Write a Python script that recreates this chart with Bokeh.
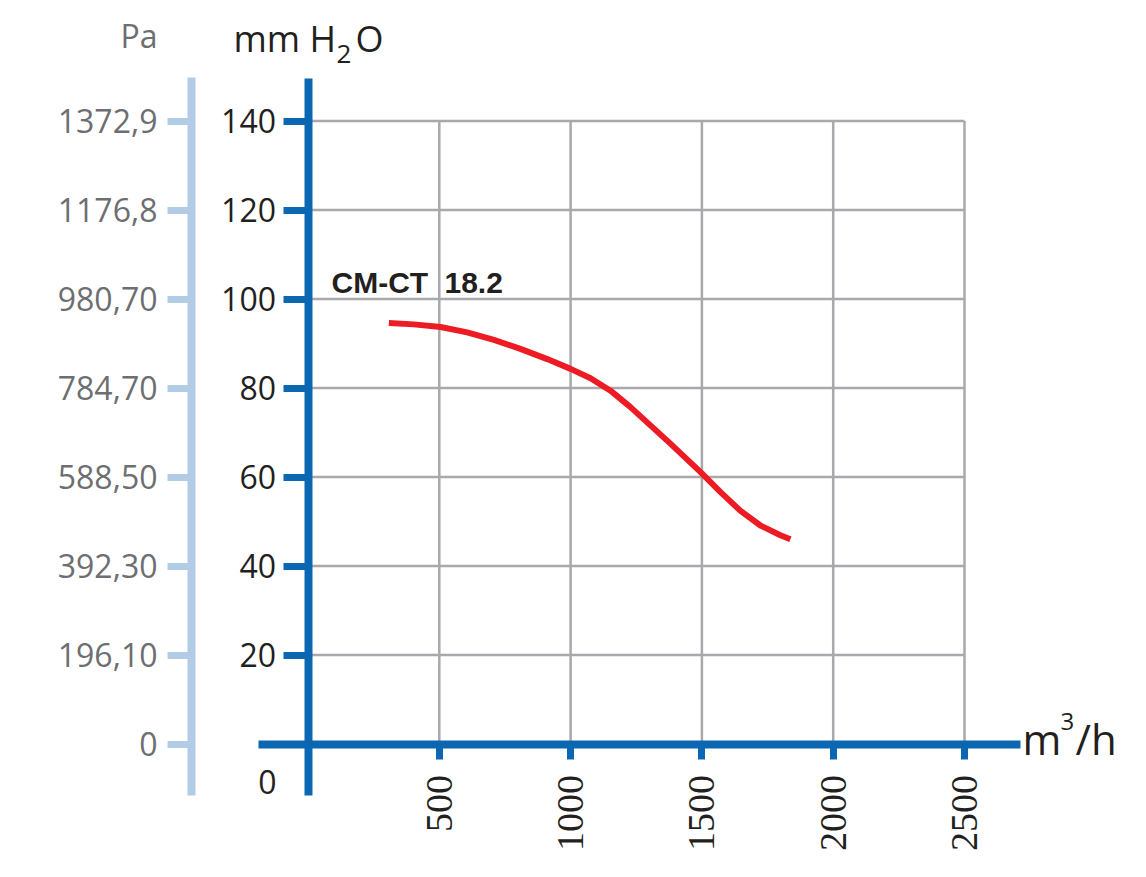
import math
from bokeh.plotting import figure
from bokeh.models import LinearAxis, FixedTicker, Label, Range1d
from bokeh.embed import file_html
from bokeh.resources import INLINE

# ---- data ----
series_name = ["CM-CT", "18.2"]
flow = [308, 403, 505, 606, 708, 809, 911, 1000, 1076, 1152, 1228, 1304, 1380,
        1495, 1571, 1647, 1723, 1799, 1837]
pressure = [94.6, 94.3, 93.7, 92.5, 90.8, 88.8, 86.5, 84.3, 82.2, 79.4, 75.7, 71.6, 67.5,
            61.1, 56.6, 52.4, 49.1, 46.9, 46.0]
x_ticks = [500, 1000, 1500, 2000, 2500]
y_ticks = [20, 40, 60, 80, 100, 120, 140]
pa_ticks = [0, 20, 40, 60, 80, 100, 120, 140]
pa_labels = ["0", "196,10", "392,30", "588,50", "784,70", "980,70", "1176,8", "1372,9"]

BLUE = "#0b67b2"
LIGHT = "#b3cce6"
GRID = "#a7a9ac"
RED = "#ed1c24"
BLACK = "#231f20"
GRAY = "#6d6e71"
FONT = "Open Sans"

W, H = 1130, 861
p = figure(width=W, height=H, output_backend="svg", toolbar_location=None,
           x_range=Range1d(-1171.0, 3132.1), y_range=Range1d(-26.4, 167.08),
           x_axis_type=None, y_axis_type=None, min_border=0)
p.outline_line_color = None
p.background_fill_color = "white"

# grid lines limited to the tick area
n_x = len(x_ticks)
n_y = len(y_ticks)
p.segment(x0=x_ticks, y0=[0] * n_x, x1=x_ticks, y1=[max(y_ticks)] * n_x,
          line_color=GRID, line_width=2.5)
p.segment(x0=[0] * n_y, y0=y_ticks, x1=[max(x_ticks)] * n_y, y1=y_ticks,
          line_color=GRID, line_width=2.5)

# curve
p.line(flow, pressure, line_color=RED, line_width=6, line_join="round")

# main y axis (mm H2O)
yaxis = LinearAxis(fixed_location=0, ticker=FixedTicker(ticks=y_ticks), bounds=(-11.6, 149.5),
                   axis_line_color=BLUE, axis_line_width=8,
                   major_tick_line_color=BLUE, major_tick_line_width=7,
                   major_tick_in=0, major_tick_out=25, minor_tick_line_color=None,
                   major_label_standoff=7, major_label_text_font=FONT,
                   major_label_text_font_size="32px", major_label_text_color=BLACK)
p.add_layout(yaxis, "left")

# Pa axis
pa_axis = LinearAxis(fixed_location=-443.6, ticker=FixedTicker(ticks=pa_ticks), bounds=(-11.6, 149.8),
                     major_label_overrides={t: l for t, l in zip(pa_ticks, pa_labels)},
                     axis_line_color=LIGHT, axis_line_width=8,
                     major_tick_line_color=LIGHT, major_tick_line_width=7,
                     major_tick_in=0, major_tick_out=24, minor_tick_line_color=None,
                     major_label_standoff=10, major_label_text_font=FONT,
                     major_label_text_font_size="32px", major_label_text_color=GRAY)
p.add_layout(pa_axis, "left")

# x axis
xaxis = LinearAxis(fixed_location=0, ticker=FixedTicker(ticks=x_ticks), bounds=(-188.5, 2713),
                   axis_line_color=BLUE, axis_line_width=8,
                   major_tick_line_color=BLUE, major_tick_line_width=7,
                   major_tick_in=0, major_tick_out=15, minor_tick_line_color=None,
                   major_label_standoff=16, major_label_orientation=math.pi / 2,
                   major_label_text_font="Liberation Sans Narrow",
                   major_label_text_font_size="38px", major_label_text_color=BLACK)
p.add_layout(xaxis, "below")


def lab(x, y, text, size, color=BLACK, font=FONT, align="left", style="normal"):
    p.add_layout(Label(x=x, y=y, x_units="screen", y_units="screen", text=text,
                       text_align=align, text_baseline="alphabetic",
                       text_font=font, text_font_size=size,
                       text_font_style=style, text_color=color))


lab(157, 826, "Pa", "32px", color=GRAY, align="right")
lab(233, 823, "mm", "36px")
lab(309, 823, "H", "36px")
lab(336, 808, "2", "26px")
lab(355, 823, "O", "36px")
lab(1022, 123, "m", "42px")
lab(1060, 140, "3", "24px")
lab(1075, 123, "/h", "42px")
lab(267, 80, "0", "32px", align="center")
lab(331, 579, series_name[0], "30px", font="Liberation Sans", style="bold")
lab(444, 579, series_name[1], "30px", font="Liberation Sans", style="bold")

open("out.html", "w").write(file_html(p, INLINE))
